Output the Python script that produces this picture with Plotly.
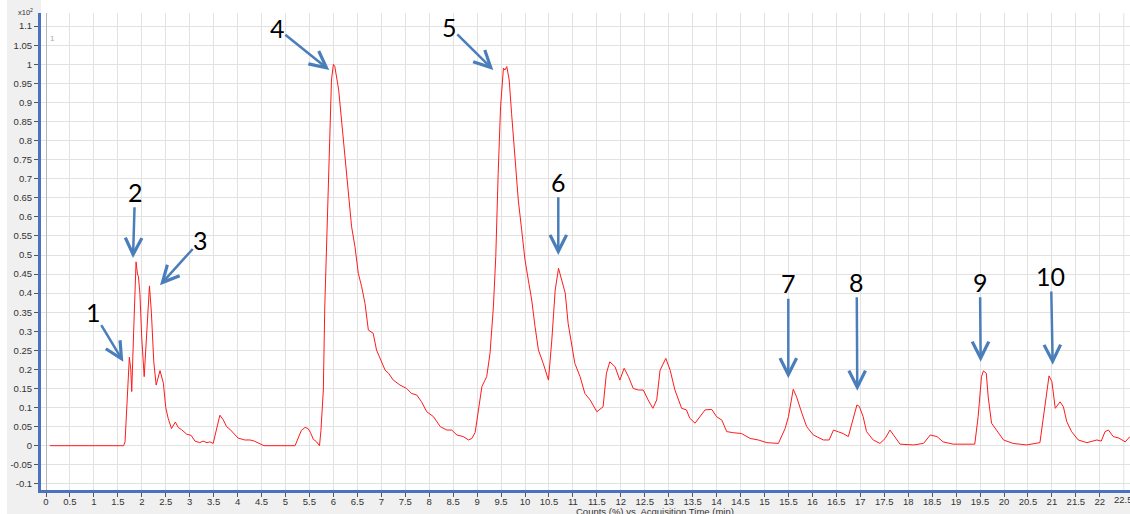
import plotly.graph_objects as go

# ---- chromatogram (time in min, counts in x10^2 %) ----
time_min = [0.08, 1.62, 1.65, 1.70, 1.74, 1.77, 1.79, 1.83, 1.88, 1.91, 1.93, 1.96, 2.00, 2.05,
            2.10, 2.16, 2.20, 2.25, 2.30, 2.38, 2.45, 2.50, 2.55, 2.62, 2.70, 2.76, 2.83, 2.94,
            3.03, 3.11, 3.21, 3.28, 3.36, 3.42, 3.49, 3.56, 3.63, 3.70, 3.77, 3.84, 3.91, 4.01,
            4.15, 4.26, 4.35, 4.47, 4.55, 5.20, 5.27, 5.33, 5.41, 5.47, 5.52, 5.58, 5.65, 5.71,
            5.74, 5.76, 5.79, 5.82, 5.86, 5.90, 5.93, 5.96, 6.00, 6.03, 6.11, 6.17, 6.24, 6.31,
            6.38, 6.45, 6.52, 6.59, 6.66, 6.73, 6.83, 6.90, 7.01, 7.08, 7.15, 7.25, 7.39, 7.53,
            7.63, 7.74, 7.84, 7.95, 8.09, 8.23, 8.37, 8.47, 8.58, 8.71, 8.82, 8.89, 8.96, 9.03,
            9.10, 9.20, 9.27, 9.34, 9.39, 9.44, 9.49, 9.55, 9.58, 9.62, 9.67, 9.72, 9.79, 9.86,
            9.93, 10.00, 10.07, 10.14, 10.21, 10.28, 10.38, 10.49, 10.56, 10.63, 10.70, 10.77,
            10.84, 10.90, 10.97, 11.04, 11.15, 11.25, 11.36, 11.50, 11.63, 11.70, 11.77, 11.88,
            11.98, 12.07, 12.16, 12.26, 12.37, 12.47, 12.57, 12.67, 12.75, 12.82, 12.94, 13.03,
            13.13, 13.27, 13.37, 13.44, 13.55, 13.65, 13.76, 13.90, 14.00, 14.11, 14.21, 14.35,
            14.52, 14.70, 14.87, 15.05, 15.29, 15.43, 15.50, 15.60, 15.67, 15.78, 15.88, 16.02,
            16.23, 16.35, 16.44, 16.55, 16.64, 16.75, 16.82, 16.93, 16.98, 17.06, 17.13, 17.27,
            17.41, 17.52, 17.62, 17.72, 17.83, 18.11, 18.32, 18.46, 18.60, 18.73, 18.94, 19.39,
            19.46, 19.53, 19.57, 19.63, 19.67, 19.74, 19.85, 19.99, 20.19, 20.47, 20.75, 20.82,
            20.89, 20.94, 21.00, 21.07, 21.17, 21.24, 21.31, 21.41, 21.55, 21.73, 21.94, 22.03,
            22.11, 22.18, 22.28, 22.40, 22.53, 22.63]
counts = [0.0, 0.0, 0.01, 0.12, 0.232, 0.20, 0.142, 0.30, 0.482, 0.45, 0.443, 0.40, 0.28, 0.181,
          0.30, 0.419, 0.35, 0.22, 0.159, 0.197, 0.164, 0.10, 0.072, 0.045, 0.062, 0.048, 0.042, 0.03,
          0.027, 0.012, 0.008, 0.012, 0.008, 0.01, 0.006, 0.04, 0.08, 0.068, 0.05, 0.043, 0.033, 0.02,
          0.015, 0.015, 0.012, 0.004, 0.0, 0.0, 0.02, 0.04, 0.048, 0.045, 0.035, 0.017, 0.01, 0.0,
          0.04, 0.10, 0.146, 0.364, 0.54, 0.714, 0.845, 0.959, 1.0, 0.994, 0.933, 0.854, 0.758, 0.67,
          0.574, 0.522, 0.452, 0.417, 0.373, 0.303, 0.295, 0.251, 0.216, 0.198, 0.19, 0.172, 0.159, 0.150,
          0.137, 0.133, 0.115, 0.089, 0.076, 0.05, 0.041, 0.041, 0.028, 0.024, 0.015, 0.019, 0.035, 0.102,
          0.155, 0.181, 0.242, 0.364, 0.496, 0.714, 0.889, 0.99, 0.985, 0.994, 0.959, 0.871, 0.758, 0.644,
          0.566, 0.487, 0.434, 0.382, 0.312, 0.251, 0.216, 0.172, 0.277, 0.408, 0.465, 0.434,
          0.40, 0.321, 0.268, 0.216, 0.181, 0.137, 0.12, 0.089, 0.102, 0.19, 0.22, 0.207,
          0.172, 0.203, 0.181, 0.150, 0.146, 0.146, 0.12, 0.098, 0.12, 0.198, 0.229, 0.198,
          0.146, 0.098, 0.094, 0.072, 0.059, 0.076, 0.094, 0.095, 0.076, 0.067, 0.037, 0.034,
          0.032, 0.019, 0.015, 0.008, 0.006, 0.045, 0.076, 0.148, 0.128, 0.085, 0.05, 0.028,
          0.015, 0.015, 0.041, 0.036, 0.032, 0.024, 0.059, 0.107, 0.103, 0.076, 0.037, 0.015,
          0.006, 0.019, 0.041, 0.024, 0.004, 0.002, 0.006, 0.028, 0.024, 0.01, 0.004, 0.004,
          0.076, 0.181, 0.196, 0.19, 0.128, 0.059, 0.041, 0.015, 0.006, 0.002, 0.008, 0.076,
          0.146, 0.183, 0.168, 0.098, 0.115, 0.102, 0.063, 0.037, 0.015, 0.008, 0.015, 0.012,
          0.037, 0.041, 0.024, 0.02, 0.01, 0.024]

# ---- peak labels (arrow tip and label position) ----
peak_labels = ["1", "2", "3", "4", "5", "6", "7", "8", "9", "10"]
tip_t = [1.614, 1.816, 2.380, 5.914, 9.338, 10.695, 15.497, 16.937, 19.513, 21.017]
tip_v = [0.220, 0.492, 0.421, 0.985, 0.985, 0.500, 0.177, 0.144, 0.220, 0.212]
lab_t = [0.987, 1.858, 3.230, 4.829, 8.420, 10.695, 15.497, 16.925, 19.499, 20.981]
lab_v = [0.351, 0.666, 0.539, 1.094, 1.099, 0.692, 0.426, 0.430, 0.430, 0.445]

# ---- ticks ----
x_tickvals = [i * 0.5 for i in range(45)]
x_ticktext = [("%g" % v) for v in x_tickvals]
x_last_tick = 22.5
y_tickvals = [round(-0.1 + i * 0.05, 2) for i in range(25)]
y_ticktext = [("%g" % v) for v in y_tickvals]

W, H = 1130, 514
ML, MR, MT, MB = 41, 0, 13, 24
PW, PH = W - ML - MR, H - MT - MB

fig = go.Figure()
fig.add_trace(go.Scatter(x=time_min, y=counts, mode="lines",
                         line=dict(color="#ff1a1a", width=1), hoverinfo="skip",
                         showlegend=False))

arrow_col = "#4a7ebb"
for lab, tx, tv, lx, lv in zip(peak_labels, tip_t, tip_v, lab_t, lab_v):
    fig.add_annotation(x=tx, y=tv, ax=lx, ay=lv, axref="x", ayref="y",
                       xref="x", yref="y", text=lab, showarrow=True,
                       arrowhead=5, arrowsize=1.3, arrowwidth=2.5, arrowcolor=arrow_col,
                       standoff=0, startstandoff=0, borderpad=0,
                       font=dict(family="Lato", size=25, color="#000000"))

tick_font = dict(family="Liberation Sans", size=9.5, color="#333333")

# small texts
fig.add_annotation(xref="paper", yref="paper", x=(35 - ML) / PW, y=1 + (MT - 12) / PH,
                   text="x10<sup>2</sup>", showarrow=False, xanchor="right",
                   yanchor="middle",
                   font=dict(family="Liberation Sans", size=7.5, color="#333333"))
fig.add_annotation(xref="paper", yref="paper", x=(48 - ML) / PW, y=1 - (32 - MT) / PH,
                   text="1", showarrow=False, xanchor="left",
                   font=dict(family="Liberation Sans", size=8, color="#aaaaaa"))
fig.add_annotation(xref="paper", yref="paper", x=(655 - ML) / PW, y=-(511 - MT - PH) / PH,
                   text="Counts (%) vs. Acquisition Time (min)", showarrow=False,
                   yanchor="middle",
                   font=dict(family="Liberation Sans", size=9.5, color="#333333"))
# last x tick label, cut by the right edge as in the original
fig.add_annotation(xref="x", yref="paper", x=x_last_tick, y=-(500 - MT - PH) / PH,
                   text="%g" % x_last_tick, showarrow=False, yanchor="middle",
                   font=tick_font)

# white strips (top & far left)
fig.add_shape(type="rect", xref="paper", yref="paper", x0=0, x1=1, y0=1, y1=1 + MT / PH,
              fillcolor="white", line=dict(width=0), layer="below")
fig.add_shape(type="rect", xref="paper", yref="paper", x0=-ML / PW, x1=-(ML - 7) / PW,
              y0=-MB / PH, y1=1 + MT / PH, fillcolor="white", line=dict(width=0), layer="below")

fig.update_xaxes(range=[(ML - 46) / 47.9, (W - 46) / 47.9], tickmode="array",
                 tickvals=x_tickvals, ticktext=x_ticktext, showgrid=True,
                 gridcolor="#e2e2e2", gridwidth=1, zeroline=True, zerolinecolor="#b5b5b5",
                 zerolinewidth=1, showline=True, linecolor="#4a72c0", linewidth=3,
                 ticks="outside", ticklen=4, tickcolor="#555555", tickfont=tick_font,
                 ticklabelstandoff=-3)
fig.add_shape(type="line", xref="x", yref="paper", x0=x_last_tick, x1=x_last_tick,
              y0=0, y1=1, line=dict(color="#e2e2e2", width=1), layer="below")
fig.update_yaxes(range=[(445.7 - 490) / 381.4, (445.7 - 13) / 381.4], tickmode="array",
                 tickvals=y_tickvals, ticktext=y_ticktext, showgrid=True,
                 gridcolor="#e2e2e2", gridwidth=1, zeroline=False, showline=True,
                 linecolor="#4a72c0", linewidth=3, ticks="outside", ticklen=4,
                 tickcolor="#555555", tickfont=tick_font)

fig.update_layout(width=W, height=H, margin=dict(l=ML, r=MR, t=MT, b=MB),
                  paper_bgcolor="#f0f0f0", plot_bgcolor="white", showlegend=False)

fig.write_html("out.html")
